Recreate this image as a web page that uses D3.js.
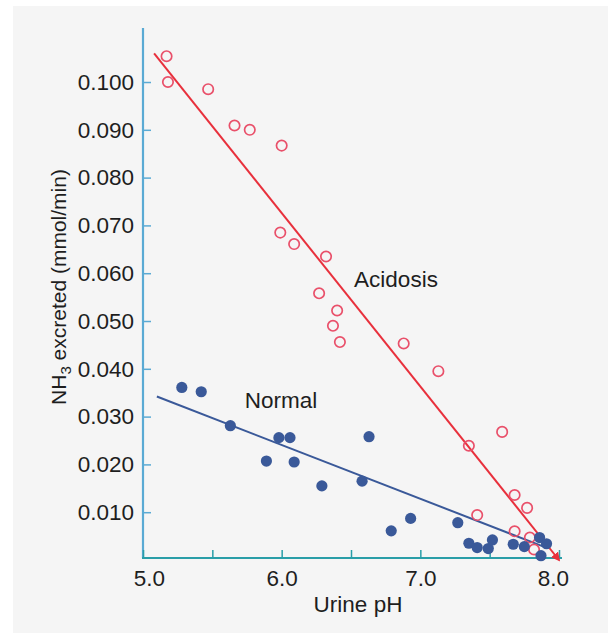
<!DOCTYPE html>
<html>
<head>
<meta charset="utf-8">
<script src="https://cdn.jsdelivr.net/npm/d3@7"></script>
<style>
  body { margin: 0; background: #fff; }
  svg text { font-family: "Liberation Sans", Arial, Helvetica, sans-serif; fill: #1e1e1e; }
</style>
</head>
<body>
<div class="chart"></div>
<script>
// acidosis (open red circles)
var acidPH = [5.17, 5.18, 5.47, 5.66, 5.77, 6.0, 5.99, 6.09, 6.32, 6.27, 6.4, 6.37, 6.42,
              6.88, 7.13, 7.35, 7.59, 7.41, 7.68, 7.77, 7.68, 7.79, 7.82];
var acidNH3 = [0.1054, 0.1, 0.0985, 0.0909, 0.09, 0.0867, 0.0685, 0.0661, 0.0635, 0.0558, 0.0522, 0.049, 0.0456,
               0.0453, 0.0395, 0.0239, 0.0268, 0.0094, 0.0136, 0.0109, 0.006, 0.0047, 0.0022];

// normal (filled blue dots)
var normPH = [5.28, 5.42, 5.63, 5.98, 6.06, 5.89, 6.09, 6.29, 6.58, 6.63, 6.79, 6.93,
              7.27, 7.35, 7.41, 7.49, 7.52, 7.67, 7.75, 7.86, 7.91, 7.87];
var normNH3 = [0.0361, 0.0352, 0.0281, 0.0256, 0.0256, 0.0207, 0.0205, 0.0155, 0.0165, 0.0258, 0.0061, 0.0087,
               0.0078, 0.0035, 0.0026, 0.0024, 0.0042, 0.0033, 0.0028, 0.0047, 0.0034, 0.0009];

// regression lines (start, end)
var acidLinePH = [5.08, 8.0];
var acidLineNH3 = [0.106, 0.0];
var normLinePH = [5.1, 7.88];
var normLineNH3 = [0.0342, 0.0029];

var xTicks = [5.0, 5.5, 6.0, 6.5, 7.0, 7.5, 8.0];
var yTicks = [0.01, 0.02, 0.03, 0.04, 0.05, 0.06, 0.07, 0.08, 0.09, 0.1];

var width = 608, height = 633;

var svg = d3.select(".chart").append("svg")
  .attr("width", width)
  .attr("height", height);

svg.append("rect")
  .attr("x", 13).attr("y", 6)
  .attr("width", width - 13).attr("height", height - 6)
  .attr("fill", "#f5f5f5");

var x = d3.scaleLinear().domain([5, 8]).range([143, 559]);
var y = d3.scaleLinear().domain([0, 0.1113]).range([560, 28]);

var red = "#e8303c", pink = "#e9506a", blue = "#3a5999";

// axes
var yAxis = d3.axisLeft(y)
  .tickValues(yTicks)
  .tickFormat(d3.format(".3f"))
  .tickSizeInner(-8)
  .tickSizeOuter(0)
  .tickPadding(9);

var gy = svg.append("g")
  .attr("transform", "translate(143,0)")
  .call(yAxis);
gy.select(".domain").attr("stroke", "#5aaad4").attr("stroke-width", 2.2).attr("d", "M0,558V28");
gy.selectAll(".tick line").attr("stroke", "#5aaad4").attr("stroke-width", 1.5);
gy.selectAll(".tick text").attr("font-size", 22.5).attr("fill", "#1e1e1e")
  .style("font-family", "'Liberation Sans', Arial, sans-serif");

var xAxis = d3.axisBottom(x)
  .tickValues(xTicks)
  .tickFormat(d => d % 1 === 0 ? d3.format(".1f")(d) : "")
  .tickSizeInner(-8)
  .tickSizeOuter(0)
  .tickPadding(12);

var gx = svg.append("g")
  .attr("transform", "translate(0,558)")
  .call(xAxis);
gx.select(".domain").attr("stroke", "#2a9ea8").attr("stroke-width", 2.2).attr("d", "M142,0H562");
gx.selectAll(".tick line").attr("stroke", "#2a9ea8").attr("stroke-width", 1.5);
gx.selectAll(".tick text").attr("font-size", 22.5).attr("fill", "#1e1e1e")
  .style("font-family", "'Liberation Sans', Arial, sans-serif")
  .attr("dx", d => d === 5 ? 6 : (d === 8 ? -6 : 0));

// regression lines
var line = d3.line().x(d => x(d[0])).y(d => y(d[1]));

svg.append("defs").append("marker")
  .attr("id", "arrow")
  .attr("viewBox", "0 0 10 10")
  .attr("refX", 8).attr("refY", 5)
  .attr("markerWidth", 4.5).attr("markerHeight", 4.5)
  .attr("orient", "auto")
  .append("path")
  .attr("d", "M0,0L10,5L0,10z")
  .attr("fill", red);

svg.append("path")
  .datum(d3.zip(acidLinePH, acidLineNH3))
  .attr("d", line)
  .attr("fill", "none")
  .attr("stroke", red)
  .attr("stroke-width", 2)
  .attr("marker-end", "url(#arrow)");

svg.append("path")
  .datum(d3.zip(normLinePH, normLineNH3))
  .attr("d", line)
  .attr("fill", "none")
  .attr("stroke", blue)
  .attr("stroke-width", 2);

// points
svg.selectAll(".acid")
  .data(d3.zip(acidPH, acidNH3))
  .enter()
  .append("circle")
  .attr("class", "acid")
  .attr("cx", d => x(d[0]))
  .attr("cy", d => y(d[1]))
  .attr("r", 5.2)
  .attr("fill", "none")
  .attr("stroke", pink)
  .attr("stroke-width", 1.7);

svg.selectAll(".norm")
  .data(d3.zip(normPH, normNH3))
  .enter()
  .append("circle")
  .attr("class", "norm")
  .attr("cx", d => x(d[0]))
  .attr("cy", d => y(d[1]))
  .attr("r", 5.6)
  .attr("fill", blue);

// labels
svg.append("text")
  .attr("x", 396).attr("y", 287)
  .attr("text-anchor", "middle")
  .attr("font-size", 22.5)
  .text("Acidosis");

svg.append("text")
  .attr("x", 281).attr("y", 408)
  .attr("text-anchor", "middle")
  .attr("font-size", 22.5)
  .text("Normal");

svg.append("text")
  .attr("x", 358).attr("y", 612)
  .attr("text-anchor", "middle")
  .attr("font-size", 22.5)
  .text("Urine pH");

var yTitle = svg.append("text")
  .attr("transform", "translate(66,287) rotate(-90)")
  .attr("text-anchor", "middle")
  .attr("font-size", 21);
yTitle.append("tspan").text("NH");
yTitle.append("tspan").attr("font-size", 15).attr("dy", 5).text("3");
yTitle.append("tspan").attr("dy", -5).text(" excreted (mmol/min)");
</script>
</body>
</html>
